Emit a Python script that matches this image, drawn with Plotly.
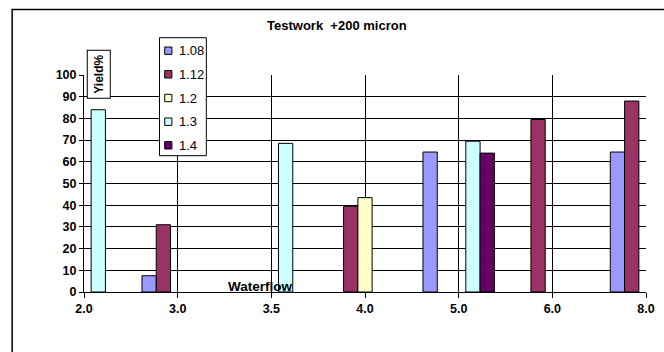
import plotly.graph_objects as go

categories = ["2.0", "3.0", "3.5", "4.0", "5.0", "6.0", "8.0"]
series_names = ["1.08", "1.12", "1.2", "1.3", "1.4"]
s108 = [None, 7.5, None, None, 64.5, None, 64.5]
s112 = [None, 31, None, 39.5, None, 79.5, 88]
s120 = [None, None, None, 43.5, None, None, None]
s130 = [84, None, 68.5, None, 69.5, None, None]
s140 = [None, None, None, None, 64, None, None]
colors = ["#9999FF", "#993366", "#FFFFCC", "#CCFFFF", "#660066"]
values = [s108, s112, s120, s130, s140]

fig = go.Figure()
for name, vals, col in zip(series_names, values, colors):
    fig.add_trace(go.Bar(
        x=categories, y=vals, name=name, showlegend=False,
        marker=dict(color=col, line=dict(color="black", width=1)),
    ))

L, R, T, B = 84, 9, 75, 60
W, H = 664, 352
pw = W - L - R
ph = H - T - B

def px(x):
    return (x - L) / pw

def py(y):
    return (H - B - y) / ph

font = "Liberation Sans, Arial, sans-serif"

shapes = [dict(
    type="rect", xref="paper", yref="paper",
    x0=px(11), x1=px(700), y0=py(400), y1=py(9.5),
    line=dict(color="black", width=1.5), layer="below",
)]
annotations = [
    dict(text="<b>Testwork  +200 micron</b>", xref="paper", yref="paper",
         x=px(341), y=py(26), xanchor="center", yanchor="middle",
         showarrow=False, font=dict(size=13, family=font)),
    dict(text="<b>Yield%</b>", xref="paper", yref="paper",
         x=px(99), y=py(74), xanchor="center", yanchor="middle",
         showarrow=False, textangle=-90,
         bordercolor="black", borderwidth=1, bgcolor="white", borderpad=4,
         font=dict(size=12, family=font)),
    dict(text="<b>Waterflow</b>", xref="paper", yref="paper",
         x=px(263), y=py(286), xanchor="center", yanchor="middle",
         showarrow=False, font=dict(size=13.5, family=font)),
]

# legend box (drawn manually to match the compact original legend)
shapes.append(dict(type="rect", xref="paper", yref="paper",
                   x0=px(160.7), x1=px(208.3), y0=py(155.7), y1=py(37.7),
                   line=dict(color="black", width=1), fillcolor="white", layer="above"))
row_y = [50.7, 74.3, 98, 121.7, 145.3]
for name, col, ry in zip(series_names, colors, row_y):
    shapes.append(dict(type="rect", xref="paper", yref="paper",
                       x0=px(166), x1=px(173.3), y0=py(ry + 3.7), y1=py(ry - 3.7),
                       line=dict(color="black", width=1), fillcolor=col, layer="above"))
    annotations.append(dict(text=name, xref="paper", yref="paper",
                            x=px(178), y=py(ry), xanchor="left", yanchor="middle",
                            showarrow=False, font=dict(size=13, family=font)))

fig.update_layout(
    width=W, height=H,
    margin=dict(l=L, r=R, t=T, b=B, pad=0),
    paper_bgcolor="white", plot_bgcolor="white",
    barmode="group", bargap=0.238, bargroupgap=0,
    font=dict(family=font, color="black", size=12),
    showlegend=False,
    xaxis=dict(
        type="category", range=[0, 6], showgrid=True, gridcolor="black", gridwidth=1,
        showline=True, linecolor="black", linewidth=1,
        ticks="outside", ticklen=5, tickcolor="black",
        tickfont=dict(size=12.5, family=font, weight="bold"),
        zeroline=False, fixedrange=True,
    ),
    yaxis=dict(
        range=[0, 100], dtick=10, showgrid=True, gridcolor="black", gridwidth=1,
        showline=True, linecolor="black", linewidth=1,
        ticks="outside", ticklen=4, tickcolor="black",
        tickfont=dict(size=12.5, family=font, weight="bold"),
        zeroline=False, fixedrange=True,
    ),
    shapes=shapes,
    annotations=annotations,
)

fig.write_html("out.html", config={"displayModeBar": False},
               post_script="document.body.style.margin='0';document.body.style.overflow='hidden';")
